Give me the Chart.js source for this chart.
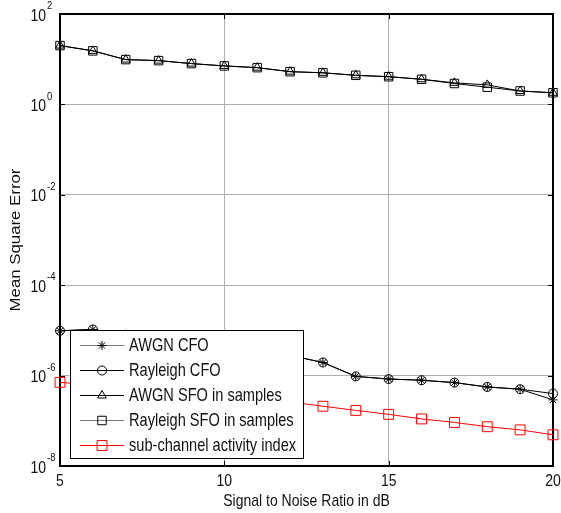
<!DOCTYPE html>
<html>
<head>
<meta charset="utf-8">
<script src="https://cdn.jsdelivr.net/npm/chart.js@4.4.0/dist/chart.umd.min.js"></script>
<style>
	html, body { margin: 0; padding: 0; background: #fff; }
	#area { width: 561px; height: 513px; position: relative; }
</style>
</head>
<body>
<div id="area"><canvas id="graficoMSE"></canvas></div>
<script>

	// dados
	var snr = [5, 6, 7, 8, 9, 10, 11, 12, 13, 14, 15, 16, 17, 18, 19, 20];

	var awgnCfo = [9.8e-6, 1.05e-5, 8.0e-6, 6.5e-6, 5.3e-6, 4.3e-6, 3.5e-6, 2.8e-6, 1.95e-6, 9.6e-7, 8.4e-7, 7.9e-7, 7.0e-7, 5.6e-7, 5.0e-7, 2.9e-7];
	var rayleighCfo = [9.8e-6, 1.05e-5, 8.0e-6, 6.5e-6, 5.3e-6, 4.3e-6, 3.5e-6, 2.8e-6, 1.95e-6, 9.6e-7, 8.4e-7, 7.9e-7, 7.0e-7, 5.6e-7, 5.0e-7, 4.0e-7];
	var awgnSfo = [20.0, 15.3, 9.8, 9.3, 8.0, 7.1, 6.5, 5.3, 5.0, 4.4, 4.1, 3.6, 3.0, 2.7, 1.98, 1.81];
	var rayleighSfo = [20.0, 15.3, 9.8, 9.3, 8.0, 7.1, 6.5, 5.3, 5.0, 4.4, 4.1, 3.6, 2.9, 2.4, 1.98, 1.81];
	var subCanal = [7.1e-7, 6.2e-7, 5.4e-7, 4.7e-7, 4.0e-7, 3.5e-7, 3.0e-7, 2.6e-7, 2.1e-7, 1.7e-7, 1.39e-7, 1.1e-7, 9.2e-8, 7.4e-8, 6.3e-8, 4.9e-8];

	var rotulos = ['AWGN CFO', 'Rayleigh CFO', 'AWGN SFO in samples', 'Rayleigh SFO in samples', 'sub-channel activity index'];
	var xTicks = [5, 10, 15, 20];
	var yExpoentes = [-8, -6, -4, -2, 0, 2];

	var tituloX = 'Signal to Noise Ratio in dB';
	var tituloY = 'Mean Square Error';

	var FONTE = '"Liberation Sans", Arial, sans-serif';
	var ESTICA = 1.2; // o original esta esticado na vertical

	var montaPontos = function(serie){
		var pts = [];
		for (i = 0; i < snr.length; i++) {
			pts.push({x: snr[i], y: serie[i]});
		}
		return pts;
	};

	var escreve = function(ctx, txt, x, y, tam, alinh, girar){
		ctx.save();
		ctx.translate(x, y);
		if(girar){
			ctx.rotate(-Math.PI / 2);
			ctx.scale(ESTICA, 1);
		} else {
			ctx.scale(1, ESTICA);
		}
		ctx.font = tam + 'px ' + FONTE;
		ctx.textAlign = alinh || 'center';
		ctx.textBaseline = 'middle';
		ctx.fillStyle = '#111';
		ctx.fillText(txt, 0, 0);
		ctx.restore();
	};

	var datasets = [{
		label: rotulos[0],
		data: montaPontos(awgnCfo),
		borderColor: '#000',
		legendaCor: '#777',
		pointStyle: 'star',
		pointRadius: 4.5
	}, {
		label: rotulos[1],
		data: montaPontos(rayleighCfo),
		borderColor: '#000',
		pointStyle: 'circle',
		pointRadius: 4.5
	}, {
		label: rotulos[2],
		data: montaPontos(awgnSfo),
		borderColor: '#000',
		pointStyle: 'triangle',
		pointRadius: 5
	}, {
		label: rotulos[3],
		data: montaPontos(rayleighSfo),
		borderColor: '#000',
		legendaCor: '#777',
		pointStyle: 'rect',
		pointRadius: 6
	}, {
		label: rotulos[4],
		data: montaPontos(subCanal),
		borderColor: '#ff0000',
		pointStyle: 'rect',
		pointRadius: 7
	}];

	for (i = 0; i < datasets.length; i++) {
		var d = datasets[i];
		d.borderWidth = 1;
		d.pointBorderColor = d.borderColor;
		d.pointBackgroundColor = 'rgba(0,0,0,0)';
		d.pointBorderWidth = 1;
		d.pointHoverRadius = d.pointRadius;
		d.tension = 0;
		d.fill = false;
		d.clip = false;
	}

	/* eixos, rotulos e legenda desenhados a mao (estilo matlab) */
	var pluginMatlab = {
		id: 'matlab',
		beforeDatasetsDraw: function(chart){
			var ctx = chart.ctx;
			var ca = chart.chartArea;
			var sx = chart.scales.x;
			var sy = chart.scales.y;

			ctx.save();
			ctx.strokeStyle = '#000';
			ctx.lineWidth = 1;
			ctx.beginPath();
			for (i = 0; i < xTicks.length; i++) {
				var px = Math.round(sx.getPixelForValue(xTicks[i])) + 0.5;
				ctx.moveTo(px, ca.bottom); ctx.lineTo(px, ca.bottom - 5);
				ctx.moveTo(px, ca.top); ctx.lineTo(px, ca.top + 5);
			}
			for (i = 0; i < yExpoentes.length; i++) {
				var py = Math.round(sy.getPixelForValue(Math.pow(10, yExpoentes[i]))) + 0.5;
				ctx.moveTo(ca.left, py); ctx.lineTo(ca.left + 5, py);
				ctx.moveTo(ca.right, py); ctx.lineTo(ca.right - 5, py);
			}
			ctx.stroke();

			ctx.lineWidth = 2;
			ctx.strokeRect(Math.round(ca.left), Math.round(ca.top), Math.round(ca.right - ca.left), Math.round(ca.bottom - ca.top));
			ctx.restore();
		},
		afterDraw: function(chart){
			var ctx = chart.ctx;
			var ca = chart.chartArea;
			var sx = chart.scales.x;
			var sy = chart.scales.y;

			// rotulos do eixo y: 10 com expoente
			for (i = 0; i < yExpoentes.length; i++) {
				var py = sy.getPixelForValue(Math.pow(10, yExpoentes[i]));
				escreve(ctx, '10', ca.left - 14, py + 2, 14, 'right');
				escreve(ctx, String(yExpoentes[i]), ca.left - 13, py - 8, 9.5, 'left');
			}

			for (i = 0; i < xTicks.length; i++) {
				escreve(ctx, String(xTicks[i]), sx.getPixelForValue(xTicks[i]), ca.bottom + 15, 14, 'center');
			}

			escreve(ctx, tituloX, (ca.left + ca.right) / 2, ca.bottom + 35, 14, 'center');
			escreve(ctx, tituloY, 16, (ca.top + ca.bottom) / 2, 14, 'center', true);

			// legenda
			var lx = ca.left + 10;
			var ly = 330;
			var lw = 233;
			var lh = 128;
			ctx.save();
			ctx.fillStyle = '#fff';
			ctx.fillRect(lx, ly, lw, lh);
			ctx.strokeStyle = '#000';
			ctx.lineWidth = 1;
			ctx.strokeRect(lx + 0.5, ly + 0.5, lw, lh);

			for (i = 0; i < datasets.length; i++) {
				var ds = datasets[i];
				var ry = ly + 15 + i * 25;
				ctx.strokeStyle = ds.legendaCor || ds.borderColor;
				ctx.lineWidth = 1;
				ctx.beginPath();
				ctx.moveTo(lx + 10, ry + 0.5);
				ctx.lineTo(lx + 54, ry + 0.5);
				ctx.stroke();
				ctx.strokeStyle = ds.borderColor;
				ctx.fillStyle = 'rgba(0,0,0,0)';
				Chart.helpers.drawPoint(ctx, {
					pointStyle: ds.pointStyle,
					radius: ds.pointRadius,
					rotation: 0,
					borderWidth: 1
				}, lx + 32, ry + 0.5);
				escreve(ctx, ds.label, lx + 59, ry + 1, 14.6, 'left');
			}
			ctx.restore();
		}
	};

	var grafico = new Chart(document.getElementById('graficoMSE'), {
		type: 'line',
		data: { datasets: datasets },
		options: {
			responsive: true,
			maintainAspectRatio: false,
			animation: false,
			layout: { padding: { left: 60, right: 8, top: 14, bottom: 47 } },
			plugins: {
				legend: { display: false },
				tooltip: { enabled: false }
			},
			scales: {
				x: {
					type: 'linear',
					min: 5,
					max: 20,
					afterBuildTicks: function(scale){
						scale.ticks = xTicks.map(function(v){ return {value: v}; });
					},
					ticks: { display: false },
					border: { display: false },
					grid: {
						drawTicks: false,
						color: function(c){
							return (c.index == 0 || c.index == xTicks.length - 1) ? 'rgba(0,0,0,0)' : '#b0b0b0';
						}
					}
				},
				y: {
					type: 'logarithmic',
					min: 1e-8,
					max: 1e2,
					afterBuildTicks: function(scale){
						scale.ticks = yExpoentes.map(function(e){ return {value: Math.pow(10, e)}; });
					},
					ticks: { display: false },
					border: { display: false },
					grid: {
						drawTicks: false,
						color: function(c){
							return (c.index == 0 || c.index == yExpoentes.length - 1) ? 'rgba(0,0,0,0)' : '#b0b0b0';
						}
					}
				}
			}
		},
		plugins: [pluginMatlab]
	});

</script>
</body>
</html>
